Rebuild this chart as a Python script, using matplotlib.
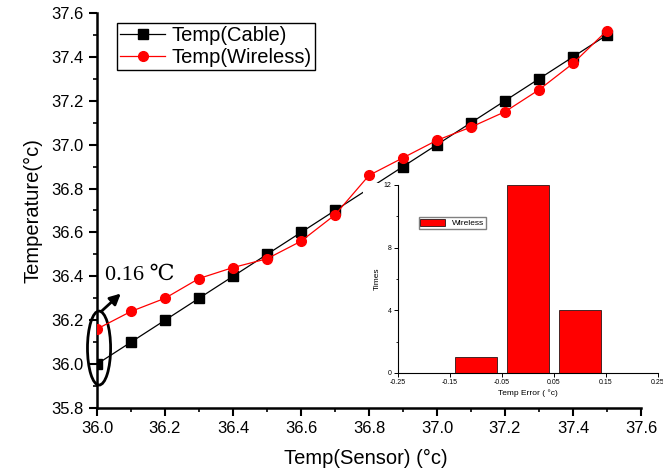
import matplotlib.pyplot as plt
from matplotlib.patches import Ellipse, Rectangle
from matplotlib.ticker import MultipleLocator

# donnees
capteur = [36.0, 36.1, 36.2, 36.3, 36.4, 36.5, 36.6, 36.7, 36.8, 36.9,
           37.0, 37.1, 37.2, 37.3, 37.4, 37.5]
temp_cable = [36.0, 36.1, 36.2, 36.3, 36.4, 36.5, 36.6, 36.7, 36.8, 36.9,
              37.0, 37.1, 37.2, 37.3, 37.4, 37.5]
temp_wireless = [36.16, 36.24, 36.30, 36.39, 36.44, 36.48, 36.56, 36.68, 36.86, 36.94,
                 37.02, 37.08, 37.15, 37.25, 37.37, 37.52]

# histogramme de l'erreur
erreur = [-0.1, 0.0, 0.1]
nb_fois = [1, 12, 4]

plt.rcParams['font.family'] = ['Liberation Sans', 'DejaVu Sans']

fig = plt.figure(figsize=(6.63, 4.69), dpi=100)
pos = [0.1463, 0.1301, 0.8205, 0.8422]
ax = fig.add_axes(pos)
ax.plot(capteur, temp_cable, color='black', marker='s', markersize=7, linewidth=0.9,
        label='Temp(Cable)')
# ligne fantome pour la legende
ax.plot([], [], color='red', marker='o', markersize=7, linewidth=0.9,
        label='Temp(Wireless)')
ax.set_xlim(36.0, 37.6)
ax.set_ylim(35.8, 37.6)
ax.xaxis.set_major_locator(MultipleLocator(0.2))
ax.xaxis.set_minor_locator(MultipleLocator(0.1))
ax.yaxis.set_major_locator(MultipleLocator(0.2))
ax.yaxis.set_minor_locator(MultipleLocator(0.1))
ax.spines['top'].set_visible(False)
ax.spines['right'].set_visible(False)
ax.spines['left'].set_linewidth(1.8)
ax.spines['bottom'].set_linewidth(1.8)
ax.tick_params(which='major', direction='out', length=6, width=1.5, labelsize=12)
ax.tick_params(which='minor', direction='out', length=3, width=1.2)
ax.set_xlabel('Temp(Sensor) (°c)', fontsize=14.5)
ax.set_ylabel('Temperature(°c)', fontsize=14.5)
ax.xaxis.label.set_va('center')
ax.yaxis.label.set_va('center')
ax.xaxis.set_label_coords(0.494, -0.129)
ax.yaxis.set_label_coords(-0.117, 0.5)
ax.legend(loc='upper left', bbox_to_anchor=(0.03, 0.985), fontsize=14.5, fancybox=False,
          edgecolor='black', framealpha=1, handlelength=2.2, borderpad=0.15,
          labelspacing=0.15, handletextpad=0.35, borderaxespad=0.2)

# annotation 0.16
ax.add_patch(Ellipse((36.006, 36.073), 0.068, 0.337, fill=False, edgecolor='black',
                     linewidth=2, clip_on=False, zorder=5))
ax.annotate('', xy=(36.076, 36.33), xytext=(36.009, 36.235),
            arrowprops=dict(arrowstyle='-|>', color='black', lw=2, mutation_scale=16))
ax.text(36.025, 36.405, '0.16 ℃', fontsize=16, family=['Liberation Serif', 'DejaVu Serif'],
        ha='left', va='center')

# fond blanc de l'encart
fig.patches.append(Rectangle((363 / 663, 1 - 400 / 469), 300 / 663, (400 - 183) / 469,
                             transform=fig.transFigure, facecolor='white',
                             edgecolor='none', zorder=0.5))

axi = fig.add_axes([0.6003, 0.2047, 0.3922, 0.4009])
axi.set_zorder(1)
axi.bar(erreur, nb_fois, width=0.08, color='red', edgecolor='black', linewidth=0.5,
        label='Wireless')
axi.set_xlim(-0.25, 0.25)
axi.set_ylim(0, 12)
axi.set_xticks([-0.25, -0.15, -0.05, 0.05, 0.15, 0.25])
axi.set_xticklabels(['-0.25', '-0.15', '-0.05', '0.05', '0.15', '0.25'])
axi.set_yticks([0, 4, 8, 12])
axi.yaxis.set_minor_locator(MultipleLocator(2))
axi.xaxis.set_minor_locator(MultipleLocator(0.05))
axi.spines['top'].set_visible(False)
axi.spines['right'].set_visible(False)
axi.spines['left'].set_linewidth(0.8)
axi.spines['bottom'].set_linewidth(0.8)
axi.tick_params(which='major', direction='out', length=3, width=0.7, labelsize=5, pad=1.5)
axi.tick_params(which='minor', direction='out', length=1.5, width=0.6)
axi.tick_params(axis='x', which='minor', length=0)
axi.set_xlabel('Temp Error ( °c)', fontsize=6, labelpad=2)
axi.set_ylabel('Times', fontsize=6, labelpad=2)
axi.legend(loc='upper left', bbox_to_anchor=(0.08, 0.83), fontsize=6, fancybox=False,
           edgecolor='gray', framealpha=1, borderpad=0.2, handlelength=3,
           handleheight=0.9, borderaxespad=0)

# la courbe rouge passe au-dessus de l'encart
axt = fig.add_axes(pos, sharex=ax, sharey=ax)
axt.set_zorder(2)
axt.patch.set_visible(False)
axt.axis('off')
axt.plot(capteur, temp_wireless, color='red', marker='o', markersize=7, linewidth=0.9)

fig.savefig('out.png', dpi=100)
